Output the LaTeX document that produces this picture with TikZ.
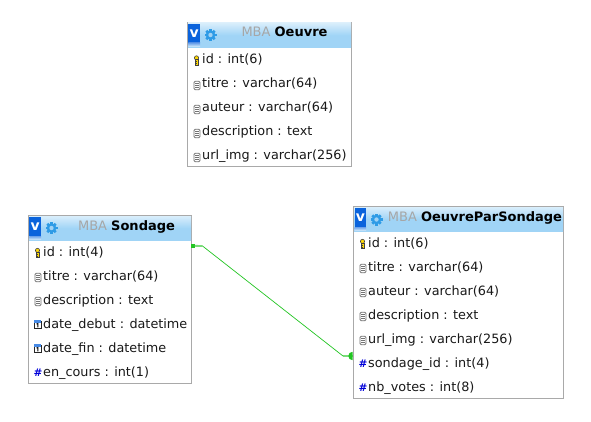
\documentclass[tikz,border=0pt]{standalone}
\usepackage{fontspec}
\setmainfont{DejaVu Sans}
\usepackage{tikz}
\usetikzlibrary{arrows, positioning, fit, shapes.geometric}
\definecolor{framegray}{HTML}{A9A9A9}
\definecolor{headblue}{HTML}{A0D4F6}
\definecolor{btnblue}{HTML}{0A63DC}
\definecolor{gearblue}{HTML}{2E9BE6}
\definecolor{relgreen}{HTML}{22C422}
\tikzset{>=stealth,
  tablebox/.style={draw=framegray, fill=white, line width=1pt, inner sep=0pt, outer sep=0pt, anchor=north west},
  tablehead/.style={top color=headblue!40!white, bottom color=headblue, middle color=headblue, inner sep=0pt, outer sep=0pt, anchor=north west},
  btnv/.style={fill=btnblue, text=white, inner sep=0pt, outer sep=0pt, anchor=north west, font=\fontsize{14}{14}\bfseries, minimum width=11.7pt, minimum height=19pt},
  btnfoot/.style={top color=btnblue!60!white, bottom color=headblue!50!white, inner sep=0pt, outer sep=0pt, anchor=north west, minimum width=11.7pt, minimum height=3.5pt},
  tabletitle/.style={inner sep=0pt, anchor=base, font=\fontsize{13}{15}\selectfont},
  rowtext/.style={inner sep=0pt, anchor=base west, font=\fontsize{12.8}{15}\selectfont, text=black!90},
  numicon/.style={inner sep=0pt, text=blue!85!black, font=\fontsize{10.5}{11}\bfseries},
  relline/.style={draw=relgreen, line width=0.7pt},
  relstub/.style={draw=relgreen!60!white, line width=1.8pt},
  relsquare/.style={fill=relgreen, inner sep=0pt, outer sep=0pt, minimum width=3.5pt, minimum height=4pt},
  keyicon/.pic={
    \fill[yellow!75!orange, draw=black!75, line width=0.6pt] (0,-2.6) circle (2.1pt);
    \fill[yellow!75!orange, draw=black!75, line width=0.6pt] (-1.6,-1) rectangle (1.6,4.6);
    \draw[black!75, line width=0.5pt] (-0.7,1.2) -- (0.7,1.2) (-0.7,3) -- (0.7,3);
  },
  colicon/.pic={
    \draw[black!55, fill=white, rounded corners=1.2pt, line width=0.8pt] (-3,-4.2) rectangle (3,4.2);
    \draw[black!55, line width=0.7pt] (-1.6,-2) -- (1.6,-2) (-1.6,0) -- (1.6,0) (-1.6,2) -- (1.6,2);
  },
  dateicon/.pic={
    \draw[black!85, fill=white, line width=0.7pt] (-3.4,-3) rectangle (3.4,4);
    \fill[btnblue!75!white] (-3.8,-4.2) rectangle (3.8,-1.9);
    \draw[black, line width=0.9pt] (-1,-0.5) -- (0.3,-0.9) -- (0.3,2.8);
  },
  gearicon/.pic={
    \foreach \ang in {0,45,...,135}
      \fill[gearblue, rotate=\ang] (-1.3,-6) rectangle (1.3,6);
    \fill[gearblue] (0,0) circle (4.8pt);
    \fill[gearblue!45!white] (0,0) circle (2.2pt);
  }
}
\begin{document}
\begin{tikzpicture}[x=1pt, y=-1pt]
  \useasboundingbox (0,0) rectangle (591,422);
  % Oeuvre
  \node[tablebox, minimum width=164pt, minimum height=144pt] (oeuvre) at (187.5,22.5) {};
  \node[tablehead, minimum width=163pt, minimum height=24.5pt] (oeuvrehead) at (188,23) {};
  \node[btnv] (oeuvrev) at (188.3,24) {v};
  \node[btnfoot] (oeuvrefoot) at (188.3,43) {};
  \pic at (210.5,35) {gearicon};
  \node[tabletitle] (oeuvretitle) at (284.5,37) {\textcolor{black!35}{MBA} \textbf{Oeuvre}};
  \pic at (196.5,60.5) {keyicon};
  \pic at (197,85.5) {colicon};
  \pic at (197,109.5) {colicon};
  \pic at (197,133.5) {colicon};
  \pic at (197,157.5) {colicon};
  \node[rowtext] (oeuvreid) at (202,64) {id : int(6)};
  \node[rowtext] (oeuvretitre) at (202,88) {titre : varchar(64)};
  \node[rowtext] (oeuvreauteur) at (202,112) {auteur : varchar(64)};
  \node[rowtext] (oeuvredesc) at (202,136) {description : text};
  \node[rowtext] (oeuvreurl) at (202,160) {url\_img : varchar(256)};

  % Sondage
  \node[tablebox, minimum width=163pt, minimum height=168pt] (sondage) at (28.5,215.5) {};
  \node[tablehead, minimum width=162pt, minimum height=24.5pt] (sondagehead) at (29,216) {};
  \node[btnv] (sondagev) at (29.3,217) {v};
  \node[btnfoot] (sondagefoot) at (29.3,236) {};
  \pic at (51.5,228) {gearicon};
  \node[tabletitle] (sondagetitle) at (126.5,230) {\textcolor{black!35}{MBA} \textbf{Sondage}};
  \pic at (37.5,253) {keyicon};
  \pic at (38,277.5) {colicon};
  \pic at (38,301.5) {colicon};
  \pic at (37.5,324.5) {dateicon};
  \pic at (37.5,348.5) {dateicon};
  \node[numicon] (sondagenum) at (38,373) {\#};
  \node[rowtext] (sondageid) at (43,256) {id : int(4)};
  \node[rowtext] (sondagetitre) at (43,280) {titre : varchar(64)};
  \node[rowtext] (sondagedesc) at (43,304) {description : text};
  \node[rowtext] (sondagedebut) at (43,328) {date\_debut : datetime};
  \node[rowtext] (sondagefin) at (43,352) {date\_fin : datetime};
  \node[rowtext] (sondagecours) at (43,376) {en\_cours : int(1)};

  % OeuvreParSondage
  \node[tablebox, minimum width=210pt, minimum height=192pt] (ops) at (353.5,206.5) {};
  \node[tablehead, minimum width=209pt, minimum height=24.5pt] (opshead) at (354,207) {};
  \node[btnv] (opsv) at (354.5,208) {v};
  \node[btnfoot] (opsfoot) at (354.5,227) {};
  \pic at (376.5,219.5) {gearicon};
  \node[tabletitle] (opstitle) at (475,221) {\textcolor{black!35}{MBA} \textbf{OeuvreParSondage}};
  \pic at (362.5,244) {keyicon};
  \pic at (363,268.5) {colicon};
  \pic at (363,292.5) {colicon};
  \pic at (363,316.5) {colicon};
  \pic at (363,340.5) {colicon};
  \node[numicon] (opsnuma) at (363,364) {\#};
  \node[numicon] (opsnumb) at (363,388) {\#};
  \node[rowtext] (opsid) at (368,247) {id : int(6)};
  \node[rowtext] (opstitre) at (368,271) {titre : varchar(64)};
  \node[rowtext] (opsauteur) at (368,295) {auteur : varchar(64)};
  \node[rowtext] (opsdesc) at (368,319) {description : text};
  \node[rowtext] (opsurl) at (368,343) {url\_img : varchar(256)};
  \node[rowtext] (opssondage) at (368,367) {sondage\_id : int(4)};
  \node[rowtext] (opsvotes) at (368,391) {nb\_votes : int(8)};

  % relation
  \node[relsquare] (relstart) at (193.2,245.8) {};
  \coordinate (relbendA) at (202.5,246);
  \coordinate (relbendB) at (343,356);
  \coordinate (relend) at (352.5,356);
  \draw[relstub] (relstart) -- (relbendA);
  \draw[relstub] (relbendB) -- (relend);
  \draw[relline] (relbendA) -- (relbendB);
  \fill[relgreen] (relend) ++(0,-4.2) arc (90:270:4.2pt) -- cycle;
\end{tikzpicture}
\end{document}
